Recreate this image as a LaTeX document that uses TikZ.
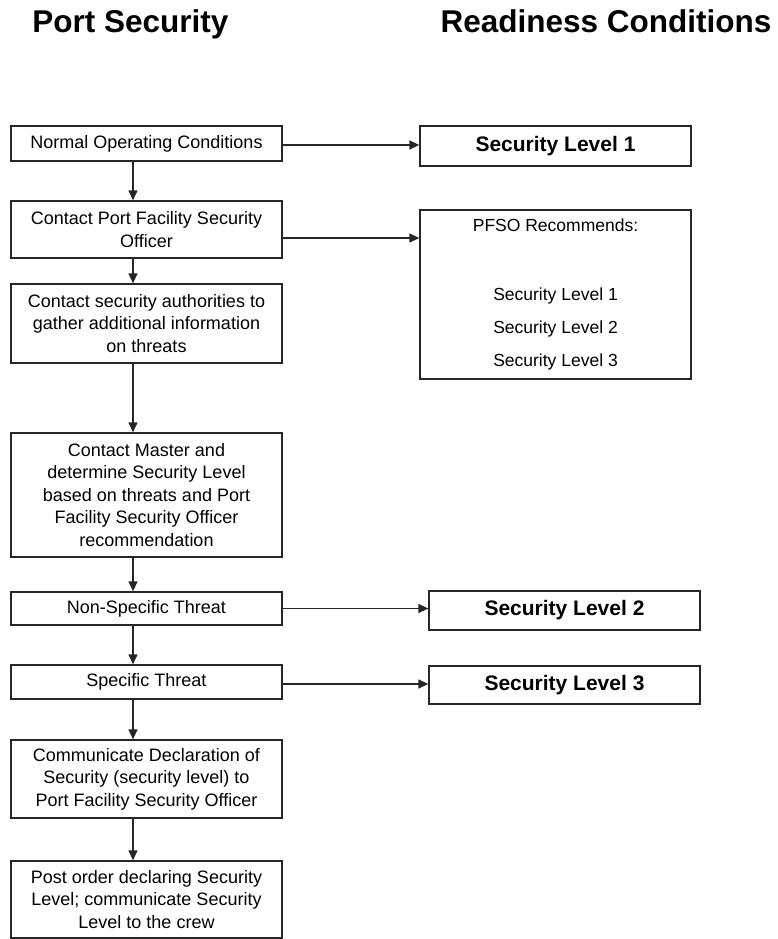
\documentclass[tikz,border=0pt]{standalone}
\usepackage{fontspec}
\setmainfont{Liberation Sans}
\usetikzlibrary{arrows.meta}
\begin{document}
\begin{tikzpicture}[x=1pt,y=-1pt,
  box/.style={draw=black!85,line width=1.3pt,inner sep=0pt,align=center,
    font=\fontsize{18}{22.5}\selectfont},
  lbox/.style={box,minimum width=271pt},
  rbox/.style={box,minimum width=271pt,font=\fontsize{21}{25}\selectfont\bfseries},
  title/.style={anchor=base,font=\fontsize{31.5}{36}\selectfont\bfseries},
  arr/.style={draw=black!85,line width=1.3pt,-{Triangle[length=10pt,width=9pt]}}]
\useasboundingbox (0,0) rectangle (778,939);
\node[title] (t1) at (130.5,33) {Port Security};
\node[title] (t2) at (606,33) {Readiness Conditions};
% left column
\node[lbox,minimum height=35pt] (b1) at (146.5,143.5) {Normal Operating Conditions};
\node[lbox,minimum height=57pt] (b2) at (146.5,229.5) {Contact Port Facility Security\\Officer};
\node[lbox,minimum height=79pt] (b3) at (146.5,323.5) {Contact security authorities to\\gather additional information\\on threats};
\node[lbox,minimum height=124pt] (b4) at (146.5,495) {Contact Master and\\determine Security Level\\based on threats and Port\\Facility Security Officer\\recommendation};
\node[lbox,minimum height=33pt] (b5) at (146.5,608.5) {Non-Specific Threat};
\node[lbox,minimum height=34pt] (b6) at (146.5,682) {Specific Threat};
\node[lbox,minimum height=78pt] (b7) at (146.5,779) {Communicate Declaration of\\Security (security level) to\\Port Facility Security Officer};
\node[lbox,minimum height=77pt] (b8) at (146.5,899.5) {Post order declaring Security\\Level; communicate Security\\Level to the crew};
% right column
\node[rbox,minimum height=40pt] (s1) at (555.5,146) {Security Level 1};
\node[box,minimum width=271pt,minimum height=169pt,font=\fontsize{17.5}{33}\selectfont] (pf) at (555.5,294.5)
  {PFSO Recommends:\\[36pt]Security Level 1\\Security Level 2\\Security Level 3};
\node[rbox,minimum height=39pt] (s2) at (564.5,610.5) {Security Level 2};
\node[rbox,minimum height=38pt] (s3) at (564.5,685) {Security Level 3};
% vertical arrows
\foreach \a/\b in {b1/b2,b2/b3,b3/b4,b4/b5,b5/b6,b6/b7,b7/b8}
  \draw[arr] ([xshift=-13.5pt]\a.south) -- ([xshift=-13.5pt]\b.north);
% horizontal arrows
\draw[arr] ([yshift=-1.5pt]b1.east) -- ([yshift=-1.5pt]b1.east -| s1.west);
\draw[arr] ([yshift=-8.5pt]b2.east) -- ([yshift=-8.5pt]b2.east -| pf.west);
\draw[arr] (b5.east) -- (b5.east -| s2.west);
\draw[arr] ([yshift=-2pt]b6.east) -- ([yshift=-2pt]b6.east -| s3.west);
\end{tikzpicture}
\end{document}
